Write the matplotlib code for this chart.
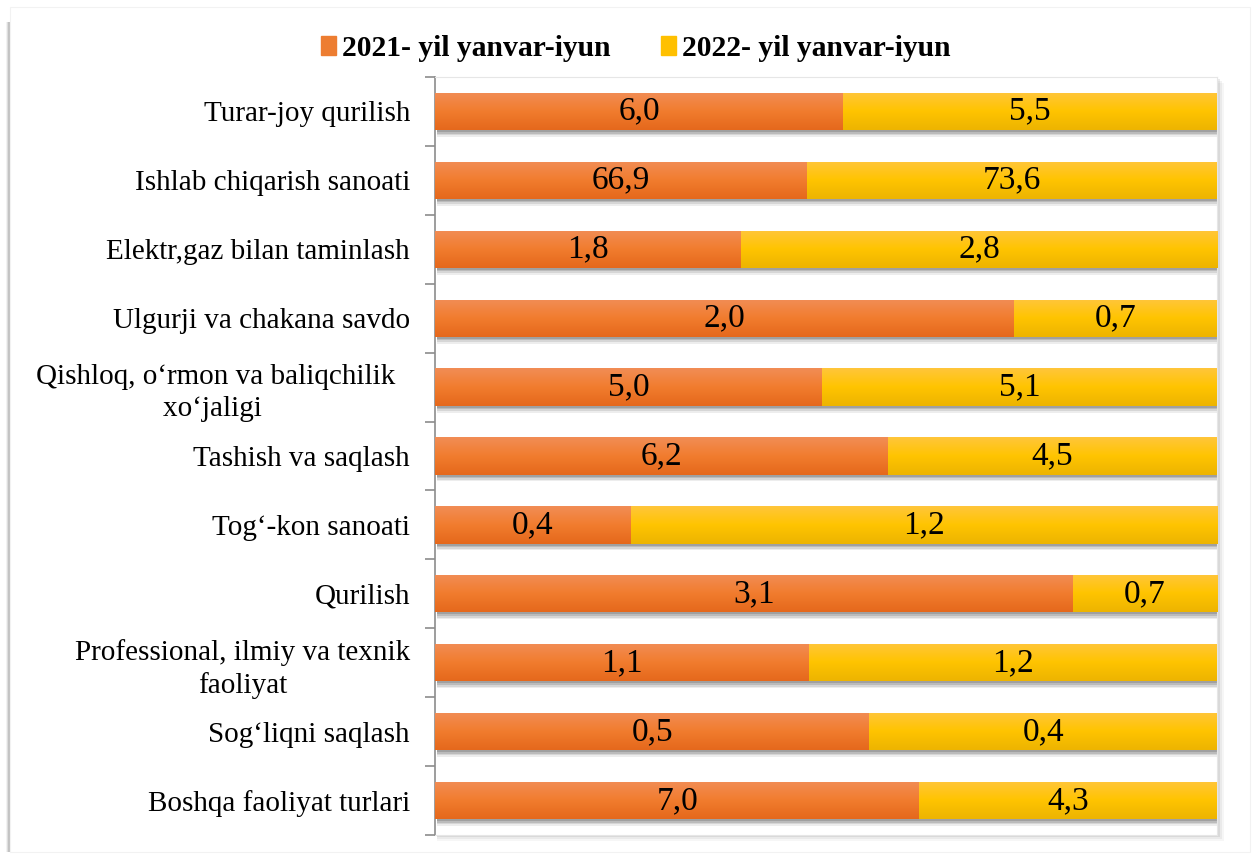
import matplotlib
matplotlib.use("Agg")
import matplotlib.pyplot as plt
import numpy as np
from matplotlib.patches import Rectangle
from matplotlib.colors import LinearSegmentedColormap

plt.rcParams['font.family'] = ['Liberation Serif', 'DejaVu Serif']

categories = [
    "Turar-joy qurilish",
    "Ishlab chiqarish sanoati",
    "Elektr,gaz bilan taminlash",
    "Ulgurji va chakana savdo",
    "Qishloq, o\u2018rmon va baliqchilik  \nxo\u2018jaligi   ",
    "Tashish va saqlash",
    "Tog\u2018-kon sanoati",
    "Qurilish",
    "Professional, ilmiy va texnik\nfaoliyat",
    "Sog\u2018liqni saqlash",
    "Boshqa faoliyat turlari",
]
v2021 = [6.0, 66.9, 1.8, 2.0, 5.0, 6.2, 0.4, 3.1, 1.1, 0.5, 7.0]
v2022 = [5.5, 73.6, 2.8, 0.7, 5.1, 4.5, 1.2, 0.7, 1.2, 0.4, 4.3]
series_names = ["2021- yil yanvar-iyun", "2022- yil yanvar-iyun"]

W, H = 1253, 859
fig = plt.figure(figsize=(W/100, H/100), dpi=100)

# outer frame with soft shadow at left
for k, a in enumerate([0.10, 0.18, 0.28]):
    fig.patches.append(Rectangle(((6+k)/W, 1-852/H), 4/W, 830/H, transform=fig.transFigure,
                                 facecolor='#808080', alpha=a, edgecolor='none', zorder=-3))
fig.patches.append(Rectangle((10/W, 1-852/H), 1240/W, 845/H, transform=fig.transFigure,
                             facecolor='white', edgecolor='#f2f2f2', lw=0.8, zorder=-2))

ax_l, ax_r, ax_t, ax_b = 435, 1217, 77, 835
# plot area soft shadow (right and bottom)
for k, a in enumerate([0.05, 0.08, 0.12]):
    d = 6 - 2*k
    fig.patches.append(Rectangle(((ax_l+2)/W, 1-(ax_b+d)/H), (ax_r-ax_l+d-1)/W, (ax_b-ax_t)/H,
                                 transform=fig.transFigure, facecolor='#606060', alpha=a,
                                 edgecolor='none', zorder=-1))
ax = fig.add_axes([ax_l/W, 1-ax_b/H, (ax_r-ax_l)/W, (ax_b-ax_t)/H])
ax.set_facecolor('white')

n = len(categories)
y = np.arange(n)
tot = np.array(v2021) + np.array(v2022)
p1 = np.array(v2021) / tot
p2 = np.array(v2022) / tot
bh = 0.54

cm_o = LinearSegmentedColormap.from_list('o', ['#F28D55', '#F17C2E', '#E5681C'])
cm_y = LinearSegmentedColormap.from_list('y', ['#FFC63A', '#FFC400', '#EDB400'])
grad = np.linspace(0, 1, 64).reshape(-1, 1)

b1 = ax.barh(y, p1, height=bh, color='#ED7D31', label=series_names[0], zorder=3)
b2 = ax.barh(y, p2, left=p1, height=bh, color='#FFC000', label=series_names[1], zorder=3)

# shadows and gradients
for bars, cm in ((b1, cm_o), (b2, cm_y)):
    for r in bars:
        x0, yc, w, h = r.get_x(), r.get_y(), r.get_width(), r.get_height()
        for k, (dy, a) in enumerate([(0.10, 0.10), (0.075, 0.14), (0.05, 0.20), (0.03, 0.25)]):
            ax.add_patch(Rectangle((x0+0.003, yc+dy), w, h, facecolor='#505050', alpha=a,
                                   edgecolor='none', zorder=2))
        im = ax.imshow(grad, cmap=cm, aspect='auto', extent=(x0, x0+w, yc+h, yc),
                       zorder=4, interpolation='bilinear')
        im.set_clip_path(r)

for i in range(n):
    ax.text(p1[i]/2, y[i], f"{v2021[i]:.1f}".replace('.', ','), ha='center', va='center',
            fontsize=24, color='black', zorder=6)
    ax.text(p1[i] + p2[i]/2, y[i], f"{v2022[i]:.1f}".replace('.', ','), ha='center', va='center',
            fontsize=24, color='black', zorder=6)

ax.set_xlim(0, 1)
ax.set_ylim(n-0.5, -0.5)
ax.set_xticks([])
ax.set_yticks(y)
ax.set_yticklabels(categories, fontsize=21, multialignment='center', linespacing=1.3)
ax.tick_params(axis='y', which='major', length=0, pad=18)
ax.set_yticks(np.arange(-0.5, n, 1), minor=True)
ax.tick_params(axis='y', which='minor', length=7, width=1.2, color='#8c8c8c', direction='out')
for s in ('top', 'right', 'bottom'):
    ax.spines[s].set_color('#e6e6e6')
    ax.spines[s].set_linewidth(0.8)
ax.spines['left'].set_color('#8c8c8c')
ax.spines['left'].set_linewidth(1.2)

leg = fig.legend(handles=[b1, b2], labels=series_names, loc='center', bbox_to_anchor=(0.5075, 0.944),
                 ncol=2, frameon=False, handlelength=0.5, handleheight=0.6, handletextpad=0.2,
                 columnspacing=1.7, prop={'weight': 'bold', 'size': 21.3})
for hnd, c in zip(leg.legend_handles, ['#ED7D31', '#FFC000']):
    hnd.set_color(c)

fig.savefig('out.png', dpi=100)
